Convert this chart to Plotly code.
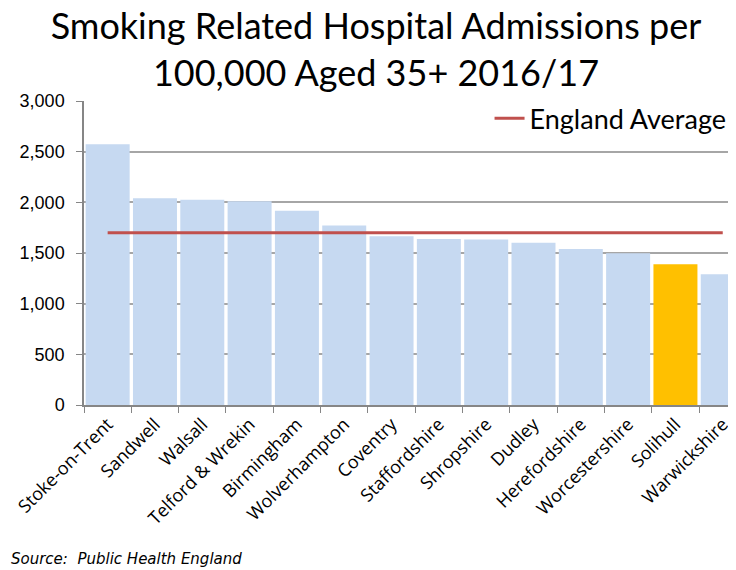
import plotly.graph_objects as go

areas = ['Stoke-on-Trent', 'Sandwell', 'Walsall', 'Telford & Wrekin', 'Birmingham',
         'Wolverhampton', 'Coventry', 'Staffordshire', 'Shropshire', 'Dudley',
         'Herefordshire', 'Worcestershire', 'Solihull', 'Warwickshire']
admissions = [2572, 2040, 2026, 2010, 1916, 1772, 1666, 1638, 1634, 1602,
              1540, 1497, 1388, 1290]
england_average = [1700] * len(areas)
highlight = 'Solihull'

bar_colors = ['#ffc000' if a == highlight else '#c6d9f1' for a in areas]

fig = go.Figure()

fig.add_trace(go.Bar(
    x = areas,
    y = admissions,
    marker = dict(color = bar_colors, line = dict(width = 0)),
    showlegend = False))

fig.add_trace(go.Scatter(
    x = areas,
    y = england_average,
    mode = 'lines',
    line = dict(color = '#c0504d', width = 3),
    name = 'England Average'))

fig.add_annotation(
    text = 'Source:  Public Health England',
    xref = 'paper', yref = 'paper',
    x = -0.115, y = -0.508,
    xanchor = 'left', yanchor = 'middle',
    showarrow = False,
    font = dict(family = 'DejaVu Sans', size = 15, color = '#000000', style = 'italic'))

# page body has an 8px margin, so the figure is shifted by 8px; margins compensate
fig.update_layout(
    width = 736,
    height = 570,
    title = dict(
        text = 'Smoking Related Hospital Admissions per<br>100,000 Aged 35+ 2016/17',
        x = 0.5, xanchor = 'center',
        yref = 'container',
        y = 0.945, yanchor = 'middle',
        font = dict(family = 'Lato', size = 36, color = '#000000')),
    plot_bgcolor = 'white',
    paper_bgcolor = 'white',
    margin = dict(l = 76, r = 8, t = 93, b = 173, pad = 0),
    bargap = 0.07,
    legend = dict(
        x = 0.622, xanchor = 'left',
        y = 1.022, yanchor = 'top',
        bgcolor = 'white',
        itemwidth = 30,
        font = dict(family = 'Lato', size = 27, color = '#000000')),
    xaxis = dict(
        range = [-0.5, 13.28],
        automargin = False,
        tickangle = -45,
        tickson = 'boundaries',
        ticks = 'outside',
        ticklen = 6,
        tickcolor = '#868686',
        showline = True,
        linecolor = '#868686',
        linewidth = 1.5,
        showgrid = False,
        tickfont = dict(family = 'Open Sans', size = 18, color = '#000000')),
    yaxis = dict(
        range = [0, 3000],
        automargin = False,
        dtick = 500,
        tickformat = ',',
        ticks = 'outside',
        ticklen = 6,
        ticklabelstandoff = 8,
        tickcolor = '#868686',
        showline = True,
        linecolor = '#868686',
        linewidth = 1.5,
        gridcolor = '#a6a6a6',
        gridwidth = 1.5,
        zeroline = False,
        tickfont = dict(family = 'Liberation Sans', size = 18, color = '#000000')))

fig.write_html("out.html")
